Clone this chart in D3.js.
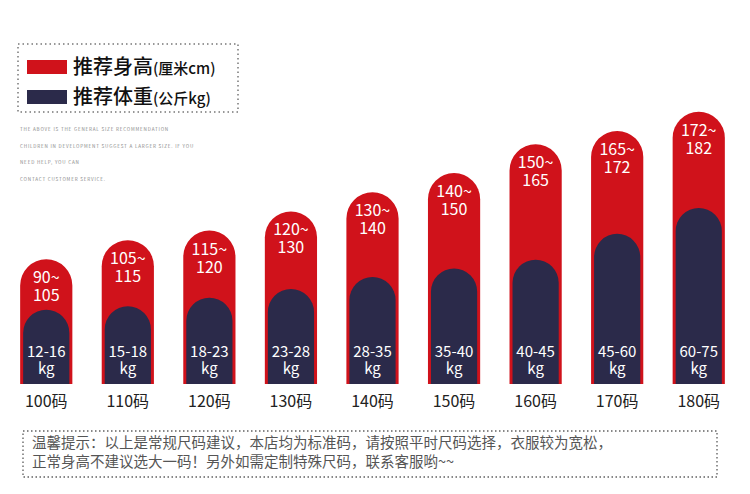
<!DOCTYPE html>
<html><head><meta charset="utf-8">
<script src="https://cdn.jsdelivr.net/npm/d3@7"></script>
<style>body{margin:0;background:#fff}text{font-family:"Noto Sans CJK SC","Noto Sans",sans-serif}</style>
</head><body><svg id="c" width="750" height="494"></svg>
<script>
// sizes and recommended ranges
var sizes = ["100码","110码","120码","130码","140码","150码","160码","170码","180码"];
var heightLo = [90,105,115,120,130,140,150,165,172];
var heightHi = [105,115,120,130,140,150,165,172,182];
var weightLo = [12,15,18,23,28,35,40,45,60];
var weightHi = [16,18,23,28,35,40,45,60,75];
var notes = ["THE ABOVE IS THE GENERAL SIZE RECOMMENDATION","CHILDREN IN DEVELOPMENT SUGGEST A LARGER SIZE. IF YOU","NEED HELP, YOU CAN","CONTACT CUSTOMER SERVICE."];
var tips = ["温馨提示：以上是常规尺码建议，本店均为标准码，请按照平时尺码选择，衣服较为宽松，","正常身高不建议选大一码！另外如需定制特殊尺码，联系客服哟~~"];

var RED = "#d0121b", NAVY = "#2b2a4a";
var svg = d3.select("#c");
var base = 384;
var x = d3.scaleBand().domain(sizes).range([12, 733]).paddingInner(0.36).paddingOuter(0.1);
var yH = d3.scaleLinear().domain([40, 185]).range([base, 106]);
var yW = d3.scaleLinear().domain([-27, 75]).range([base, 208]);

function pill(x0, w, top, bottom) {
  var r = w / 2, p = d3.path();
  p.moveTo(x0, bottom); p.lineTo(x0, top + r);
  p.arc(x0 + r, top + r, r, Math.PI, 0); p.lineTo(x0 + w, bottom); p.closePath();
  return p.toString();
}

// legend
svg.append("rect").attr("x", 18).attr("y", 44).attr("width", 220).attr("height", 68)
  .attr("fill", "none").attr("stroke", "#777").attr("stroke-width", 1.5).attr("stroke-dasharray", "1.5,3");
[["推荐身高","(厘米cm)",RED],["推荐体重","(公斤kg)",NAVY]].forEach(function(d, i) {
  var y = 66 + i * 30;
  svg.append("rect").attr("x", 27).attr("y", y - 6).attr("width", 40).attr("height", 14).attr("fill", d[2]);
  var t = svg.append("text").attr("x", 73).attr("y", y + 8).attr("fill", "#111").attr("font-size", 20).attr("font-weight", 500);
  t.append("tspan").text(d[0]);
  t.append("tspan").attr("font-size", 15).text(d[1]);
});
svg.selectAll(".note").data(notes).enter().append("text").attr("x", 20)
  .attr("y", function(d, i) { return 131 + i * 16.5; }).attr("font-size", 4.6).attr("fill", "#888")
  .attr("letter-spacing", 0.8).text(function(d) { return d; });

// bars
var g = svg.selectAll(".bar").data(sizes).enter().append("g");
g.append("path").attr("fill", RED)
  .attr("d", function(d, i) { return pill(x(d), x.bandwidth(), yH(heightHi[i]), base); });
g.append("path").attr("fill", NAVY)
  .attr("d", function(d, i) { return pill(x(d) + 3, x.bandwidth() - 6, yW(weightHi[i]), base); });
g.append("text").attr("text-anchor", "middle").attr("fill", "#fff").attr("font-size", 16)
  .attr("font-family", "Liberation Sans, Arial, sans-serif")
  .each(function(d, i) {
    var cx = x(d) + x.bandwidth() / 2, y0 = yH(heightHi[i]) + 24, t = d3.select(this);
    t.append("tspan").attr("x", cx).attr("y", y0).text(heightLo[i] + "~");
    t.append("tspan").attr("x", cx).attr("y", y0 + 18).text(heightHi[i]);
  });
g.append("text").attr("text-anchor", "middle").attr("fill", "#fff").attr("font-size", 15)
  .attr("font-family", "Liberation Sans, Arial, sans-serif")
  .each(function(d, i) {
    var cx = x(d) + x.bandwidth() / 2, t = d3.select(this);
    t.append("tspan").attr("x", cx).attr("y", 357).text(weightLo[i] + "-" + weightHi[i]);
    t.append("tspan").attr("x", cx).attr("y", 374).text("kg");
  });
g.append("text").attr("text-anchor", "middle").attr("fill", "#222").attr("font-size", 16)
  .attr("x", function(d) { return x(d) + x.bandwidth() / 2; }).attr("y", 407).text(function(d) { return d; });

// tips box
svg.append("rect").attr("x", 23).attr("y", 431).attr("width", 694).attr("height", 46)
  .attr("fill", "none").attr("stroke", "#888").attr("stroke-width", 1.8).attr("stroke-dasharray", "1.5,2.5");
svg.selectAll(".tip").data(tips).enter().append("text").attr("x", 32)
  .attr("y", function(d, i) { return 448 + i * 19; }).attr("font-size", 14.5).attr("fill", "#555")
  .text(function(d) { return d; });
</script></body></html>
